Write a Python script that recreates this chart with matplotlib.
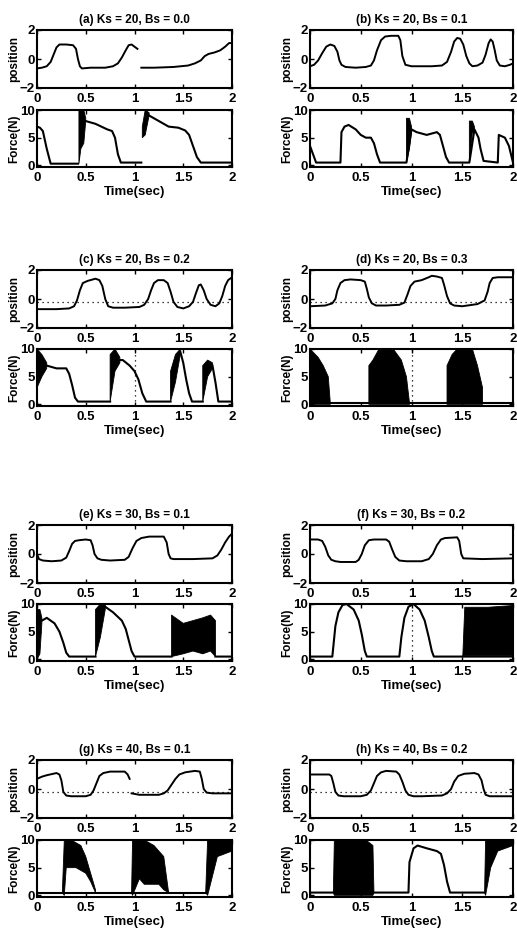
import numpy as np
import matplotlib.pyplot as plt

nan = np.nan

titles = ['(a) Ks = 20, Bs = 0.0', '(b) Ks = 20, Bs = 0.1',
          '(c) Ks = 20, Bs = 0.2', '(d) Ks = 20, Bs = 0.3',
          '(e) Ks = 30, Bs = 0.1', '(f) Ks = 30, Bs = 0.2',
          '(g) Ks = 40, Bs = 0.1', '(h) Ks = 40, Bs = 0.2']

# position traces (time, position)
a_pos_t = [0, 0.05, 0.1, 0.14, 0.17, 0.2, 0.23, 0.3, 0.37, 0.4, 0.42, 0.44, 0.46, 0.55, 0.7, 0.78, 0.83, 0.87, 0.91, 0.94, 0.97, 1.0, 1.03, 1.05,
           1.07, 1.2, 1.4, 1.55, 1.62, 1.68, 1.72, 1.76, 1.82, 1.88, 1.93, 1.97, 2.0]
a_pos_y = [-0.65, -0.6, -0.5, -0.2, 0.3, 0.8, 1.0, 1.0, 0.95, 0.7, 0.0, -0.5, -0.65, -0.6, -0.6, -0.5, -0.3, 0.1, 0.6, 0.95, 1.0, 0.85, 0.7, nan,
           -0.6, -0.6, -0.55, -0.45, -0.3, -0.1, 0.2, 0.35, 0.45, 0.6, 0.85, 1.1, 1.1]
b_pos_t = [0, 0.04, 0.08, 0.12, 0.16, 0.2, 0.24, 0.27, 0.29, 0.31, 0.35, 0.45, 0.55, 0.6, 0.63, 0.66, 0.7, 0.74, 0.8, 0.87, 0.89, 0.91, 0.94, 1.0,
           1.2, 1.3, 1.35, 1.39, 1.42, 1.45, 1.48, 1.51, 1.54, 1.57, 1.6, 1.65, 1.7, 1.73, 1.76, 1.78, 1.8, 1.82, 1.84, 1.87, 1.92, 1.97, 2.0]
b_pos_y = [-0.5, -0.4, -0.1, 0.4, 0.85, 1.0, 0.9, 0.5, -0.1, -0.4, -0.55, -0.6, -0.55, -0.45, -0.1, 0.6, 1.3, 1.55, 1.6, 1.6, 1.3, 0.2, -0.4, -0.5,
           -0.5, -0.45, -0.2, 0.5, 1.2, 1.45, 1.4, 1.0, 0.2, -0.3, -0.5, -0.45, -0.25, 0.3, 1.1, 1.35, 1.2, 0.6, -0.1, -0.45, -0.5, -0.4, -0.3]
c_pos_t = [0, 0.2, 0.33, 0.38, 0.41, 0.44, 0.47, 0.52, 0.6, 0.64, 0.67, 0.7, 0.73, 0.78, 0.9, 1.05, 1.1, 1.14, 1.17, 1.2, 1.24, 1.3, 1.34, 1.37,
           1.4, 1.44, 1.5, 1.56, 1.6, 1.63, 1.66, 1.68, 1.71, 1.74, 1.78, 1.83, 1.87, 1.9, 1.93, 1.96, 2.0]
c_pos_y = [-0.7, -0.7, -0.65, -0.5, -0.1, 0.6, 1.1, 1.25, 1.4, 1.3, 0.9, 0.0, -0.5, -0.6, -0.6, -0.55, -0.4, 0.0, 0.6, 1.1, 1.3, 1.3, 1.1, 0.5,
           -0.2, -0.55, -0.65, -0.5, -0.2, 0.4, 0.95, 1.0, 0.6, 0.0, -0.4, -0.5, -0.3, 0.2, 0.9, 1.3, 1.5]
d_pos_t = [0, 0.15, 0.22, 0.25, 0.27, 0.3, 0.34, 0.4, 0.5, 0.54, 0.56, 0.58, 0.61, 0.65, 0.75, 0.88, 0.93, 0.96, 0.99, 1.03, 1.1, 1.17, 1.2,
           1.25, 1.3, 1.32, 1.35, 1.38, 1.42, 1.5, 1.65, 1.72, 1.75, 1.77, 1.8, 1.85, 2.0]
d_pos_y = [-0.5, -0.45, -0.3, 0.0, 0.6, 1.1, 1.3, 1.35, 1.3, 1.2, 0.7, 0.1, -0.3, -0.45, -0.45, -0.4, -0.25, 0.3, 0.9, 1.2, 1.3, 1.5, 1.6,
           1.55, 1.45, 1.0, 0.2, -0.3, -0.45, -0.5, -0.35, -0.1, 0.5, 1.1, 1.45, 1.5, 1.5]
e_pos_t = [0, 0.02, 0.06, 0.15, 0.25, 0.3, 0.33, 0.36, 0.39, 0.43, 0.5, 0.55, 0.57, 0.59, 0.62, 0.66, 0.75, 0.9, 0.94, 0.98, 1.02, 1.07, 1.15,
           1.3, 1.33, 1.35, 1.37, 1.4, 1.6, 1.8, 1.85, 1.89, 1.93, 1.97, 2.0]
e_pos_y = [0.0, -0.35, -0.45, -0.5, -0.45, -0.25, 0.2, 0.7, 0.9, 0.95, 1.0, 0.95, 0.6, 0.0, -0.3, -0.4, -0.45, -0.4, -0.2, 0.4, 0.9, 1.1, 1.2,
           1.2, 0.8, 0.0, -0.3, -0.35, -0.35, -0.3, -0.1, 0.3, 0.8, 1.2, 1.4]
f_pos_t = [0, 0.08, 0.12, 0.15, 0.18, 0.21, 0.25, 0.3, 0.45, 0.48, 0.51, 0.54, 0.58, 0.63, 0.75, 0.78, 0.81, 0.84, 0.88, 0.95, 1.1, 1.17,
           1.21, 1.25, 1.29, 1.33, 1.45, 1.47, 1.49, 1.51, 1.7, 2.0]
f_pos_y = [1.0, 1.0, 0.9, 0.5, -0.1, -0.4, -0.5, -0.55, -0.55, -0.4, 0.0, 0.6, 0.95, 1.0, 1.0, 0.85, 0.3, -0.2, -0.45, -0.5, -0.5, -0.35,
           0.0, 0.6, 1.0, 1.1, 1.15, 0.9, 0.0, -0.3, -0.35, -0.3]
g_pos_t = [0, 0.05, 0.1, 0.2, 0.23, 0.25, 0.27, 0.3, 0.35, 0.5, 0.55, 0.58, 0.61, 0.64, 0.68, 0.75, 0.9, 0.93, 0.95, 0.96,
           0.97, 1.05, 1.25, 1.3, 1.34, 1.38, 1.42, 1.46, 1.52, 1.62, 1.67, 1.69, 1.71, 1.74, 1.8, 2.0]
g_pos_y = [0.7, 0.85, 0.95, 1.1, 1.0, 0.6, -0.2, -0.45, -0.5, -0.5, -0.4, -0.1, 0.4, 0.9, 1.1, 1.2, 1.2, 1.0, 0.7, nan,
           -0.3, -0.4, -0.4, -0.3, -0.1, 0.3, 0.7, 1.0, 1.15, 1.25, 1.2, 0.7, 0.0, -0.25, -0.3, -0.3]
h_pos_t = [0, 0.19, 0.21, 0.23, 0.25, 0.28, 0.33, 0.5, 0.56, 0.6, 0.63, 0.66, 0.7, 0.75, 0.85, 0.88, 0.91, 0.94, 0.97, 1.02, 1.1, 1.3,
           1.35, 1.39, 1.42, 1.46, 1.52, 1.62, 1.66, 1.69, 1.71, 1.73, 1.77, 2.0]
h_pos_y = [1.0, 1.0, 0.9, 0.4, -0.2, -0.45, -0.5, -0.5, -0.4, -0.1, 0.4, 0.9, 1.15, 1.25, 1.2, 1.0, 0.5, -0.1, -0.4, -0.5, -0.5, -0.45,
           -0.3, 0.0, 0.5, 0.9, 1.05, 1.1, 1.0, 0.6, 0.0, -0.4, -0.5, -0.5]

# force traces (time, force)
a_frc_t = [0, 0.03, 0.06, 0.1, 0.14, 0.42, 0.43, 0.5, 0.6, 0.72, 0.77, 0.8, 0.83, 0.86, 1.07, 1.08, 1.15, 1.25, 1.35, 1.45, 1.52, 1.56, 1.6, 1.64, 1.68, 2.0]
a_frc_y = [7.0, 6.8, 6.2, 3.0, 0.3, 0.3, nan, 8.0, 7.5, 6.5, 6.2, 5.0, 2.0, 0.5, 0.5, nan, 9.0, 8.0, 7.0, 6.8, 6.3, 5.5, 3.5, 1.5, 0.5, 0.5]
b_frc_t = [0, 0.03, 0.06, 0.3, 0.31, 0.34, 0.38, 0.45, 0.5, 0.55, 0.6, 0.63, 0.66, 0.69, 0.95, 1.0, 1.05, 1.15, 1.25, 1.28, 1.31, 1.34, 1.37,
           1.57, 1.62, 1.66, 1.68, 1.71, 1.85, 1.86, 1.92, 1.96, 2.0]
b_frc_y = [3.5, 2.0, 0.5, 0.5, 6.0, 7.0, 7.3, 6.5, 5.5, 5.0, 5.0, 4.0, 2.0, 0.5, 0.5, 6.5, 6.0, 5.5, 6.0, 5.5, 3.5, 1.5, 0.5,
           0.5, 6.5, 5.0, 3.0, 0.8, 0.5, 5.5, 5.0, 3.5, 0.5]
c_frc_t = [0.1, 0.2, 0.3, 0.33, 0.36, 0.39, 0.42, 0.75, 0.76, 0.85, 0.88, 0.95, 1.0, 1.04, 1.08, 1.12, 1.37, 1.38, 1.47, 1.5, 1.53, 1.56, 1.59,
           1.7, 1.72, 1.8, 1.83, 1.86, 2.0]
c_frc_y = [7.0, 6.5, 6.5, 5.5, 3.5, 1.2, 0.5, 0.5, nan, 8.0, 8.0, 7.0, 6.0, 4.5, 2.0, 0.5, 0.5, nan, 9.5, 7.5, 4.5, 2.0, 0.5,
           0.5, nan, 7.0, 4.0, 0.5, 0.5]
d_frc_t = [0.2, 0.58, 0.98, 1.35, 1.7, 2.0]
d_frc_y = [0.3, 0.3, 0.3, 0.3, 0.3, 0.3]
e_frc_t = [0.05, 0.1, 0.18, 0.23, 0.27, 0.3, 0.33, 0.6, 0.61, 0.7, 0.78, 0.87, 0.91, 0.94, 0.97, 1.0, 1.38, 1.39, 1.83, 1.85, 2.0]
e_frc_y = [7.0, 7.5, 6.5, 5.0, 3.0, 1.2, 0.5, 0.5, nan, 9.5, 8.5, 7.0, 5.5, 3.5, 1.5, 0.5, 0.5, nan, 0.5, 0.5, 0.5]
f_frc_t = [0, 0.22, 0.25, 0.28, 0.32, 0.36, 0.43, 0.48, 0.51, 0.54, 0.56, 0.88, 0.9, 0.93, 0.97, 1.02, 1.08, 1.13, 1.17, 1.2, 1.22, 1.5, 2.0]
f_frc_y = [0.5, 0.5, 6.0, 8.5, 9.8, 10.0, 9.0, 7.0, 4.5, 1.5, 0.5, 0.5, 4.0, 7.5, 9.5, 10.0, 9.0, 7.0, 4.0, 1.5, 0.5, 0.5, 0.5]
g_frc_t = [0, 0.26, 0.6, 0.97, 1.35, 1.73]
g_frc_y = [0.5, 0.5, 0.5, 0.5, 0.5, 0.5]
h_frc_t = [0, 0.23, 0.63, 0.97, 0.98, 1.02, 1.06, 1.15, 1.25, 1.29, 1.32, 1.35, 1.38, 1.72]
h_frc_y = [0.5, 0.5, 0.5, 0.5, 6.0, 8.5, 9.0, 8.5, 8.0, 7.5, 5.5, 2.5, 0.5, 0.5]

# chattering regions of the force signal: time, lower and upper envelope
a_band_t = [0.43, 0.45, 0.48, 0.5, nan, 1.08, 1.11, 1.15]
a_band_lo = [0.3, 3.0, 4.0, 8.0, nan, 5.0, 5.5, 9.0]
a_band_hi = [10.0, 10.0, 10.0, 8.5, nan, 7.0, 10.0, 9.5]
b_band_t = [0.95, 0.98, 1.0, nan, 1.57, 1.6, 1.62]
b_band_lo = [0.5, 3.0, 6.0, nan, 0.5, 6.0, 6.0]
b_band_hi = [8.5, 8.5, 7.0, nan, 8.0, 8.0, 7.0]
c_band_t = [0, 0.05, 0.1, nan, 0.75, 0.8, 0.85, nan, 1.37, 1.42, 1.47, nan, 1.7, 1.75, 1.8]
c_band_lo = [3.0, 5.0, 6.5, nan, 0.5, 6.0, 7.5, nan, 0.5, 4.0, 9.0, nan, 0.5, 5.0, 6.5]
c_band_hi = [10.0, 9.0, 7.5, nan, 9.0, 10.0, 8.5, nan, 6.0, 9.0, 10.0, nan, 7.0, 8.0, 7.5]
d_band_t = [0, 0.08, 0.13, 0.18, 0.2, nan, 0.58, 0.62, 0.68, 0.82, 0.9, 0.95, 0.98, nan, 1.35, 1.4, 1.45, 1.6, 1.65, 1.7]
d_band_lo = [0, 0, 0, 0, 0, nan, 0, 0, 0, 0, 0, 0, 0, nan, 0, 0, 0, 0, 0, 0]
d_band_hi = [10.0, 8.5, 7.0, 5.0, 0.3, nan, 7.0, 8.0, 10.0, 10.0, 8.0, 5.0, 0.3, nan, 7.0, 9.0, 10.0, 10.0, 7.0, 3.0]
e_band_t = [0, 0.03, 0.05, nan, 0.6, 0.65, 0.7, nan, 1.38, 1.5, 1.6, 1.7, 1.78, 1.83]
e_band_lo = [0, 1.0, 6.5, nan, 0.5, 4.0, 9.0, nan, 0.5, 1.0, 1.5, 1.0, 1.5, 0.5]
e_band_hi = [9.0, 9.0, 7.5, nan, 9.0, 10.0, 10.0, nan, 8.0, 6.5, 7.0, 7.5, 8.0, 7.0]
f_band_t = [1.5, 1.52, 1.75, 1.98, 2.0]
f_band_lo = [0.5, 0.8, 0.8, 0.8, 0.5]
f_band_hi = [0.5, 9.5, 9.5, 9.8, 9.8]
g_band_t = [0.26, 0.28, 0.3, 0.35, 0.4, 0.45, 0.5, 0.55, 0.6, nan, 0.97, 0.98, 1.05, 1.1, 1.2, 1.25, 1.3, 1.35, nan, 1.73, 1.75, 1.85, 2.0]
g_band_lo = [0.5, 0, 5.0, 5.0, 5.0, 4.5, 4.0, 2.5, 0.5, nan, 0.5, 0, 3.0, 2.0, 2.0, 2.0, 1.0, 0.5, nan, 0.5, 0, 7.0, 8.0]
g_band_hi = [0.5, 10.0, 10.0, 10.0, 9.5, 9.0, 7.0, 4.0, 1.0, nan, 0.5, 10.0, 10.0, 10.0, 9.0, 8.0, 7.0, 0.5, nan, 0.5, 10.0, 10.0, 10.0]
h_band_t = [0.23, 0.24, 0.35, 0.45, 0.55, 0.62, 0.63, nan, 1.72, 1.73, 1.78, 1.85, 2.0]
h_band_lo = [0.5, 0, 0, 0, 0, 0, 0.5, nan, 0.5, 0, 5.0, 8.0, 9.0]
h_band_hi = [0.5, 10.0, 10.0, 10.0, 10.0, 9.0, 0.5, nan, 0.5, 10.0, 10.0, 10.0, 10.0]

# dotted reference lines seen in the scan
pos_ref = [None, None, -0.2, -0.2, None, None, -0.2, -0.2]
frc_vline = [None, None, 1.0, 1.0, None, 1.0, None, None]

pos_t = [a_pos_t, b_pos_t, c_pos_t, d_pos_t, e_pos_t, f_pos_t, g_pos_t, h_pos_t]
pos_y = [a_pos_y, b_pos_y, c_pos_y, d_pos_y, e_pos_y, f_pos_y, g_pos_y, h_pos_y]
frc_t = [a_frc_t, b_frc_t, c_frc_t, d_frc_t, e_frc_t, f_frc_t, g_frc_t, h_frc_t]
frc_y = [a_frc_y, b_frc_y, c_frc_y, d_frc_y, e_frc_y, f_frc_y, g_frc_y, h_frc_y]
band_t = [a_band_t, b_band_t, c_band_t, d_band_t, e_band_t, f_band_t, g_band_t, h_band_t]
band_lo = [a_band_lo, b_band_lo, c_band_lo, d_band_lo, e_band_lo, f_band_lo, g_band_lo, h_band_lo]
band_hi = [a_band_hi, b_band_hi, c_band_hi, d_band_hi, e_band_hi, f_band_hi, g_band_hi, h_band_hi]

plt.rcParams['font.family'] = ['Liberation Sans', 'DejaVu Sans']
plt.rcParams['font.weight'] = 'bold'
plt.rcParams['axes.labelweight'] = 'bold'
plt.rcParams['axes.titleweight'] = 'bold'

W, H = 517, 933
fig = plt.figure(figsize=(W / 100, H / 100), dpi=100)


def px(l, t, w, h):
    return [l / W, 1 - (t + h) / H, w / W, h / H]


col_left = [37, 310]
col_width = [195, 203]
pos_top = [30, 270, 525, 760]
frc_top = [110, 349, 604, 840]


def style(ax):
    ax.set_xlim(0, 2)
    ax.set_xticks([0, 0.5, 1, 1.5, 2])
    ax.set_xticklabels(['0', '0.5', '1', '1.5', '2'])
    ax.tick_params(direction='in', length=3, width=1, labelsize=9.5,
                   top=True, right=True)
    ax.tick_params(axis='x', pad=3.5)
    ax.tick_params(axis='y', pad=1.5)
    for s in ax.spines.values():
        s.set_linewidth(1.5)


for i in range(8):
    row, col = i // 2, i % 2
    l, w = col_left[col], col_width[col]

    ax1 = fig.add_axes(px(l, pos_top[row], w, 58))
    ax1.plot(pos_t[i], pos_y[i], color='black', lw=1.4)
    if pos_ref[i] is not None:
        ax1.axhline(pos_ref[i], color='black', lw=0.9, ls=(0, (1, 3)))
    ax1.set_ylim(-2, 2)
    ax1.set_yticks([-2, 0, 2])
    style(ax1)
    ax1.set_ylabel('position', fontsize=8.5, labelpad=0)
    ax1.set_title(titles[i], fontsize=8.5, pad=5)

    ax2 = fig.add_axes(px(l, frc_top[row], w, 57))
    ax2.fill_between(band_t[i], band_lo[i], band_hi[i], color='black', lw=0.6)
    ax2.plot(frc_t[i], frc_y[i], color='black', lw=1.5)
    if frc_vline[i] is not None:
        ax2.axvline(frc_vline[i], color='black', lw=0.9, ls=(0, (1, 3)))
    ax2.set_ylim(-0.3, 10)
    ax2.set_yticks([0, 5, 10])
    style(ax2)
    ax2.set_ylabel('Force(N)', fontsize=8.5, labelpad=0)
    ax2.set_xlabel('Time(sec)', fontsize=9.5, labelpad=1.5)

fig.savefig('out.png', dpi=100)
